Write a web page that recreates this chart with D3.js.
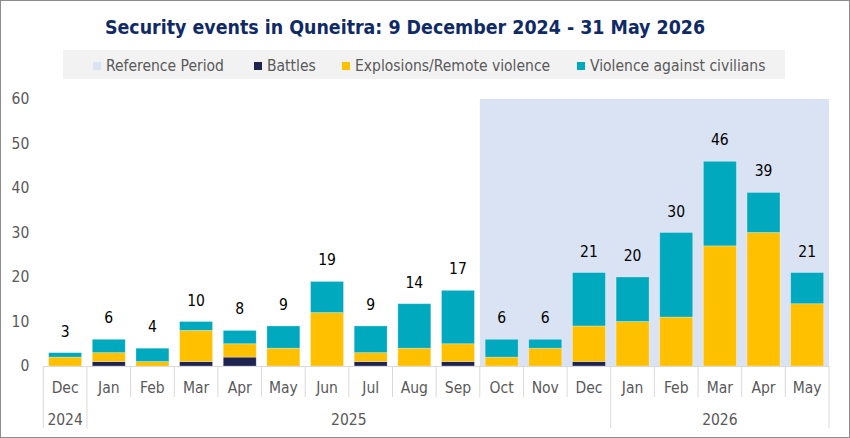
<!DOCTYPE html>
<html>
<head>
<meta charset="utf-8">
<script src="https://cdn.jsdelivr.net/npm/d3@7"></script>
<style>
  body { margin: 0; background: #fff; }
  svg text { font-family: "DejaVu Sans Condensed", "DejaVu Sans", sans-serif; }
</style>
</head>
<body>
<svg width="850" height="438"></svg>
<script>
// data
var months = ["Dec","Jan","Feb","Mar","Apr","May","Jun","Jul","Aug","Sep","Oct","Nov","Dec","Jan","Feb","Mar","Apr","May"];
var yearLabels = ["2024","2025","2026"];
var yearSpans = [1, 12, 5];
var battles    = [0,1,0,1,2,0,0,1,0,1,0,0,1,0,0,0,0,0];
var explosions = [2,2,1,7,3,4,12,2,4,4,2,4,8,10,11,27,30,14];
var violence   = [1,3,3,2,3,5,7,6,10,12,4,2,12,10,19,19,9,7];
var yTicks = [0,10,20,30,40,50,60];
var refStart = 10, refEnd = 17; // Oct 2025 - May 2026

var seriesNames = ["Battles","Explosions/Remote violence","Violence against civilians"];
var colors = {"Battles": "#1f2350", "Explosions/Remote violence": "#ffc000", "Violence against civilians": "#00a9bd"};

var svg = d3.select("svg"),
    margin = {top: 99, right: 21, bottom: 72, left: 43.3},
    width = 850 - margin.left - margin.right,
    height = 438 - margin.top - margin.bottom;

var rows = months.map(function(m, i) {
  return {i: i, "Battles": battles[i], "Explosions/Remote violence": explosions[i], "Violence against civilians": violence[i]};
});

var x = d3.scaleBand().domain(d3.range(months.length)).range([0, width]).paddingInner(0.245).paddingOuter(0.1225);
var y = d3.scaleLinear().domain([0, 60]).range([height, 0]);

// outer frame
svg.append("rect").attr("x", 0.5).attr("y", 0.5).attr("width", 849).attr("height", 437)
   .attr("fill", "none").attr("stroke", "#8c8c8c");

// title
svg.append("text").attr("x", 405).attr("y", 34).attr("text-anchor", "middle")
   .attr("font-size", 19.4).attr("font-weight", "bold").attr("fill", "#0f2a66")
   .text("Security events in Quneitra: 9 December 2024 - 31 May 2026");

// legend
var legend = svg.append("g");
legend.append("rect").attr("x", 63).attr("y", 50).attr("width", 722).attr("height", 29).attr("fill", "#f2f2f2");
var legendItems = [
  {name: "Reference Period", color: "#dae3f3", x: 93},
  {name: "Battles", color: colors["Battles"], x: 254},
  {name: "Explosions/Remote violence", color: colors["Explosions/Remote violence"], x: 342},
  {name: "Violence against civilians", color: colors["Violence against civilians"], x: 577}
];
var li = legend.selectAll(".li").data(legendItems).enter().append("g").attr("class", "li");
li.append("rect").attr("x", function(d) { return d.x; }).attr("y", 62).attr("width", 8).attr("height", 8)
  .attr("fill", function(d) { return d.color; });
li.append("text").attr("x", function(d) { return d.x + 13; }).attr("y", 71)
  .attr("font-size", 15.5).attr("fill", "#595959").text(function(d) { return d.name; });

var g = svg.append("g").attr("transform", "translate(" + margin.left + "," + margin.top + ")");

// reference period band
g.append("rect")
  .attr("x", x.step() * refStart)
  .attr("y", 0)
  .attr("width", x.step() * (refEnd - refStart + 1))
  .attr("height", height)
  .attr("fill", "#dae3f3");

// y axis
var yAxis = g.append("g")
  .call(d3.axisLeft(y).tickValues(yTicks).tickSize(0).tickPadding(14));
yAxis.select(".domain").remove();
yAxis.selectAll("text").attr("font-size", 15.5).attr("fill", "#595959").style("font-family", null);

// stacked bars
var stack = d3.stack().keys(seriesNames)(rows);
g.selectAll(".series")
  .data(stack)
  .enter().append("g")
    .attr("class", "series")
    .attr("fill", function(d) { return colors[d.key]; })
  .selectAll("rect")
  .data(function(d) { return d.filter(function(v) { return v[1] > v[0]; }); })
  .enter().append("rect")
    .attr("x", function(d) { return x(d.data.i); })
    .attr("y", function(d) { return y(d[1]); })
    .attr("width", x.bandwidth())
    .attr("height", function(d) { return y(d[0]) - y(d[1]); })
    .attr("stroke", "rgba(255,255,255,0.35)")
    .attr("stroke-width", 0.8);

// totals
g.selectAll(".total")
  .data(rows)
  .enter().append("text")
    .attr("class", "total")
    .attr("x", function(d) { return x(d.i) + x.bandwidth() / 2; })
    .attr("y", function(d) { return y(battles[d.i] + explosions[d.i] + violence[d.i]) - 16; })
    .attr("text-anchor", "middle")
    .attr("font-size", 15.5)
    .attr("fill", "#000")
    .text(function(d) { return battles[d.i] + explosions[d.i] + violence[d.i]; });

// x axis with month labels
var xAxis = g.append("g")
  .attr("transform", "translate(0," + height + ")")
  .call(d3.axisBottom(x).tickSize(0).tickPadding(16).tickFormat(function(i) { return months[i]; }));
xAxis.select(".domain").attr("stroke", "#d9d9d9");
xAxis.selectAll("text").attr("font-size", 15.5).attr("fill", "#595959").style("font-family", null);

// category separators, longer at year boundaries
var yearBounds = [0];
yearSpans.forEach(function(s, k) { yearBounds.push(yearBounds[k] + s); });
g.selectAll(".sep")
  .data(d3.range(months.length + 1))
  .enter().append("line")
    .attr("x1", function(i) { return x.step() * i; })
    .attr("x2", function(i) { return x.step() * i; })
    .attr("y1", height)
    .attr("y2", function(i) { return height + (yearBounds.indexOf(i) >= 0 ? 62 : 31); })
    .attr("stroke", "#d9d9d9");

// year labels
g.selectAll(".year")
  .data(yearLabels)
  .enter().append("text")
    .attr("x", function(d, k) { return x.step() * (yearBounds[k] + yearBounds[k + 1]) / 2; })
    .attr("y", height + 59)
    .attr("text-anchor", "middle")
    .attr("font-size", 15.5)
    .attr("fill", "#595959")
    .text(function(d) { return d; });
</script>
</body>
</html>
